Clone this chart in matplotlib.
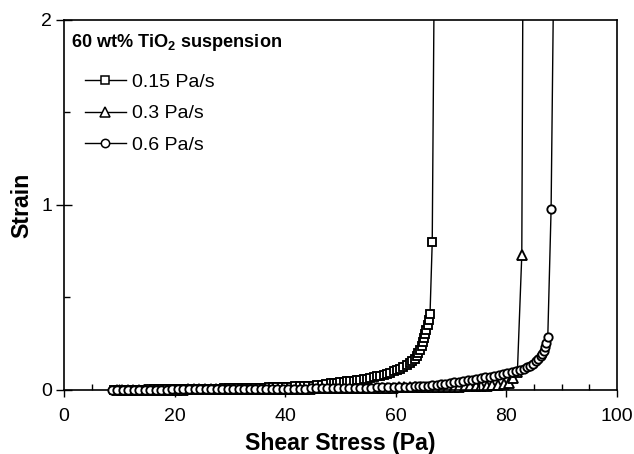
import matplotlib
matplotlib.use("Agg")
import matplotlib.pyplot as plt
from matplotlib.ticker import MultipleLocator
from matplotlib.lines import Line2D

plt.rcParams['font.family'] = ['Liberation Sans', 'DejaVu Sans']
plt.rcParams['mathtext.fontset'] = 'custom'
plt.rcParams['mathtext.rm'] = 'Liberation Sans'
plt.rcParams['mathtext.bf'] = 'Liberation Sans:bold'

# Creep tests at three stress ramp rates (strain vs. applied shear stress)
labels = ["0.15 Pa/s", "0.3 Pa/s", "0.6 Pa/s"]

stress_015 = [9.0, 9.8, 10.6, 11.4, 12.2, 13.0, 13.8, 14.6, 15.4, 16.2,
              17.0, 17.8, 18.6, 19.4, 20.2, 21.0, 21.8, 22.6, 23.4, 24.2,
              25.0, 25.8, 26.6, 27.4, 28.2, 29.0, 29.8, 30.6, 31.4, 32.2,
              33.0, 33.8, 34.6, 35.4, 36.2, 37.0, 37.8, 38.6, 39.4,
              40.2, 41.0, 41.8, 42.6, 43.4, 44.2, 45.0, 45.8, 46.6, 47.4, 48.2,
              48.8, 49.4, 50.0, 50.6, 51.2, 51.8, 52.4, 53.0, 53.6, 54.2,
              54.8, 55.4, 56.0, 56.6, 57.2, 57.8, 58.4, 59.0, 59.6, 60.2,
              60.8, 61.4, 62.0, 62.5, 63.0, 63.4, 63.8, 64.1, 64.4, 64.7,
              64.9, 65.1, 65.3, 65.5, 65.8, 66.0, 66.2, 66.6, 66.95]
strain_015 = [0.000, 0.000, 0.001, 0.001, 0.001, 0.002, 0.002, 0.002, 0.003, 0.003,
              0.003, 0.004, 0.004, 0.004, 0.005, 0.005, 0.005, 0.006, 0.006, 0.006,
              0.007, 0.007, 0.008, 0.008, 0.008, 0.009, 0.009, 0.010, 0.010, 0.011,
              0.011, 0.012, 0.012, 0.013, 0.013, 0.014, 0.015, 0.015, 0.016,
              0.017, 0.018, 0.019, 0.020, 0.021, 0.022, 0.024, 0.026, 0.028, 0.031, 0.036,
              0.038, 0.040, 0.042, 0.044, 0.046, 0.048, 0.050, 0.053, 0.056, 0.059,
              0.062, 0.066, 0.070, 0.074, 0.078, 0.083, 0.088, 0.094, 0.101, 0.108,
              0.116, 0.125, 0.135, 0.146, 0.158, 0.170, 0.185, 0.200, 0.218, 0.238,
              0.258, 0.280, 0.302, 0.326, 0.352, 0.380, 0.410, 0.800, 2.200]

stress_03 = [9.5, 10.5, 11.5, 12.5, 13.5, 14.5, 15.5, 16.5, 17.5, 18.5,
             19.5, 20.5, 21.5, 22.5, 23.5, 24.5, 25.5, 26.5, 27.5, 28.5, 29.5,
             30.5, 31.5, 32.5, 33.5, 34.5, 35.5, 36.5, 37.5, 38.5, 39.5,
             40.5, 41.5, 42.5, 43.5, 44.5, 45.5, 46.5, 47.5, 48.5, 49.5, 50.5,
             51.5, 52.5, 53.5, 54.5, 55.5, 56.5, 57.5, 58.5, 59.5, 60.5,
             61.5, 62.5, 63.5, 64.5, 65.5, 66.5, 67.5, 68.5, 69.5, 70.5, 71.5,
             72.5, 73.5, 74.5, 75.5, 76.5, 77.5, 78.5, 79.5, 80.5,
             81.3, 82.0, 82.8, 83.0]
strain_03 = [0.000, 0.000, 0.000, 0.001, 0.001, 0.001, 0.001, 0.001, 0.002, 0.002,
             0.002, 0.002, 0.002, 0.003, 0.003, 0.003, 0.003, 0.003, 0.004, 0.004, 0.004,
             0.004, 0.005, 0.005, 0.005, 0.005, 0.006, 0.006, 0.006, 0.006, 0.007,
             0.007, 0.007, 0.008, 0.008, 0.008, 0.009, 0.009, 0.009, 0.010, 0.010, 0.010,
             0.011, 0.011, 0.011, 0.012, 0.012, 0.012, 0.013, 0.013, 0.013, 0.014,
             0.014, 0.014, 0.015, 0.015, 0.015, 0.016, 0.016, 0.017, 0.017, 0.018, 0.018,
             0.019, 0.020, 0.021, 0.022, 0.024, 0.026, 0.029, 0.033, 0.040,
             0.063, 0.095, 0.730, 2.200]

stress_06 = [8.6, 9.6, 10.6, 11.6, 12.6, 13.6, 14.6, 15.6, 16.6, 17.6,
             18.6, 19.6, 20.6, 21.6, 22.6, 23.6, 24.6, 25.6, 26.6, 27.6, 28.6,
             29.6, 30.6, 31.6, 32.6, 33.6, 34.6, 35.6, 36.6, 37.6, 38.6,
             39.6, 40.6, 41.6, 42.6, 43.6, 44.6, 45.6, 46.6, 47.6, 48.6, 49.6,
             50.6, 51.6, 52.6, 53.6, 54.6, 55.6, 56.6, 57.6, 58.6, 59.6,
             60.6, 61.6, 62.6,
             63.4, 64.2, 65.0, 65.8, 66.6, 67.4, 68.2, 69.0, 69.8, 70.6,
             71.4, 72.2, 73.0, 73.8, 74.6, 75.4, 76.2, 77.0, 77.8, 78.6,
             79.4, 80.2, 81.0, 81.8, 82.5, 83.2, 83.8, 84.3, 84.8, 85.3,
             85.8, 86.2, 86.5, 86.8, 87.0, 87.2, 87.5, 88.1, 88.55]
strain_06 = [0.000, 0.000, 0.001, 0.001, 0.001, 0.001, 0.002, 0.002, 0.002, 0.002,
             0.002, 0.003, 0.003, 0.003, 0.003, 0.003, 0.004, 0.004, 0.004, 0.004, 0.004,
             0.005, 0.005, 0.005, 0.005, 0.006, 0.006, 0.006, 0.006, 0.007, 0.007,
             0.007, 0.007, 0.008, 0.008, 0.008, 0.009, 0.009, 0.009, 0.010, 0.010, 0.010,
             0.011, 0.011, 0.012, 0.012, 0.013, 0.013, 0.014, 0.014, 0.015, 0.015,
             0.016, 0.017, 0.018,
             0.019, 0.020, 0.021, 0.023, 0.025, 0.027, 0.030, 0.033, 0.037, 0.041,
             0.045, 0.049, 0.053, 0.056, 0.060, 0.064, 0.068, 0.072, 0.076, 0.080,
             0.085, 0.090, 0.096, 0.102, 0.108, 0.116, 0.124, 0.132, 0.142, 0.154,
             0.168, 0.182, 0.196, 0.212, 0.230, 0.252, 0.285, 0.977, 2.200]

series = [
    (stress_015, strain_015, 's', 6.0, labels[0], 3),
    (stress_03, strain_03, '^', 6.6, labels[1], 1),
    (stress_06, strain_06, 'o', 6.0, labels[2], 4),
]

fig = plt.figure(figsize=(6.34, 4.54), dpi=100)
ax = fig.add_axes([0.101, 0.141, 0.872, 0.815])

Y_MAX = 2.0
MEW = 1.35
handles = []
for xs, ys, mk, ms, lab, z in series:
    # connecting line (clipped at the frame), then the measured points
    ax.plot(xs, ys, '-', color='black', lw=1.0, zorder=z)
    px = [x for x, y in zip(xs, ys) if y <= Y_MAX]
    py = [y for y in ys if y <= Y_MAX]
    ax.plot(px, py, linestyle='none', marker=mk, ms=ms, mfc='white',
            mec='black', mew=MEW, zorder=z + 0.5, clip_on=False)
    handles.append(Line2D([], [], color='black', lw=1.0, marker=mk, ms=ms,
                          mfc='white', mec='black', mew=1.1))

ax.set_xlim(0, 100)
ax.set_ylim(0, Y_MAX)
ax.xaxis.set_major_locator(MultipleLocator(20))
ax.xaxis.set_minor_locator(MultipleLocator(5))
ax.yaxis.set_major_locator(MultipleLocator(1))
ax.yaxis.set_minor_locator(MultipleLocator(0.5))
ax.tick_params(axis='x', which='major', direction='out', length=5, width=1,
               labelsize=14, pad=8)
ax.tick_params(axis='x', which='minor', direction='in', length=4, width=1)
ax.tick_params(axis='y', which='major', direction='inout', length=11, width=1,
               labelsize=14, pad=3)
ax.tick_params(axis='y', which='minor', direction='in', length=4, width=1)
for s in ax.spines.values():
    s.set_linewidth(1.2)

ax.set_xlabel("Shear Stress (Pa)", fontsize=16.7, fontweight='bold', labelpad=5)
ax.set_ylabel("Strain", fontsize=16.7, fontweight='bold', labelpad=6)

ax.text(0.013, 0.94, r"60 wt% TiO$_\mathbf{2}$ suspension", transform=ax.transAxes,
        fontsize=13.1, fontweight='bold', ha='left', va='center')

ax.legend(handles, labels, loc='upper left', bbox_to_anchor=(0.038, 0.855),
          frameon=False, fontsize=14, numpoints=1, handlelength=2.1,
          handletextpad=0.3, labelspacing=0.70, borderaxespad=0, borderpad=0)

fig.savefig("out.png", dpi=100)
